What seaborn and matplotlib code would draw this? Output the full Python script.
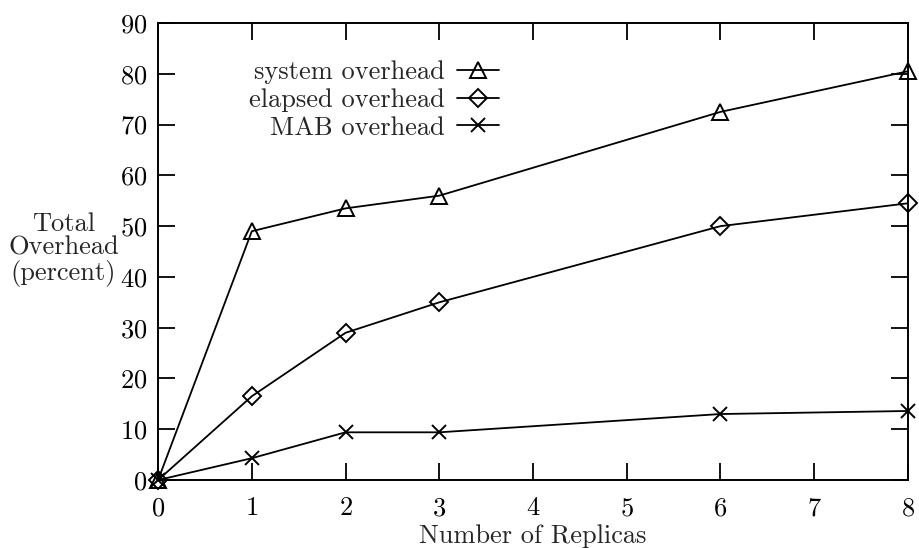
import numpy as np
import pandas as pd
import matplotlib
matplotlib.use("Agg")
import matplotlib.pyplot as plt
import seaborn as sns

# data
replicas = [0, 1, 2, 3, 6, 8]
system_overhead = [0, 49, 53.5, 56, 72.5, 80.5]
elapsed_overhead = [0, 16.5, 29, 35, 50, 54.5]
mab_overhead = [0, 4.3, 9.4, 9.4, 13, 13.6]
series_names = ["system overhead", "elapsed overhead", "MAB overhead"]

df = pd.DataFrame({
    "replicas": replicas * 3,
    "overhead": system_overhead + elapsed_overhead + mab_overhead,
    "series": [n for n in series_names for _ in replicas],
})

FS = 19

sns.set_style("ticks")
plt.rcParams["font.family"] = ["cmr10", "DejaVu Serif"]
plt.rcParams["axes.formatter.use_mathtext"] = True
plt.rcParams["font.size"] = FS

fig = plt.figure(figsize=(9.19, 5.48), dpi=100)
ax = fig.add_axes([0.172, 0.124, 0.816, 0.834])

markers = {"system overhead": "^", "elapsed overhead": "D", "MAB overhead": "x"}
sizes = {"system overhead": 12, "elapsed overhead": 9, "MAB overhead": 10}
for name in series_names:
    sub = df[df["series"] == name]
    sns.lineplot(data=sub, x="replicas", y="overhead", ax=ax, color="black",
                 linewidth=1.3, marker=markers[name], markersize=sizes[name],
                 markerfacecolor="none", markeredgecolor="black",
                 markeredgewidth=1.4, label=name, clip_on=False)

ax.set_xlim(0, 8)
ax.set_ylim(0, 90)
ax.set_xticks(range(0, 9))
ax.set_yticks(range(0, 91, 10))
ax.tick_params(direction="in", length=12, width=1.3, top=True, right=True,
               labelsize=FS, colors="black")
ax.tick_params(axis="x", pad=12)
ax.tick_params(axis="y", pad=8)
for sp in ax.spines.values():
    sp.set_linewidth(1.4)
    sp.set_color("black")
ax.set_xlabel("")
ax.set_ylabel("")

fig.text(0.58, 0.0, "Number of Replicas", ha="center", va="bottom", fontsize=FS)
fig.text(0.069, 0.545, "Total\nOverhead\n(percent)", ha="center", va="center",
         fontsize=FS, linespacing=1.0)

leg = ax.legend(loc="upper left", bbox_to_anchor=(0.09, 0.97), frameon=False,
                markerfirst=False, handlelength=1.6, handletextpad=0.45,
                labelspacing=0.15, fontsize=FS)
for t in leg.get_texts():
    t.set_ha("right")
leg._legend_box.align = "right"

fig.savefig("out.png", dpi=100)
